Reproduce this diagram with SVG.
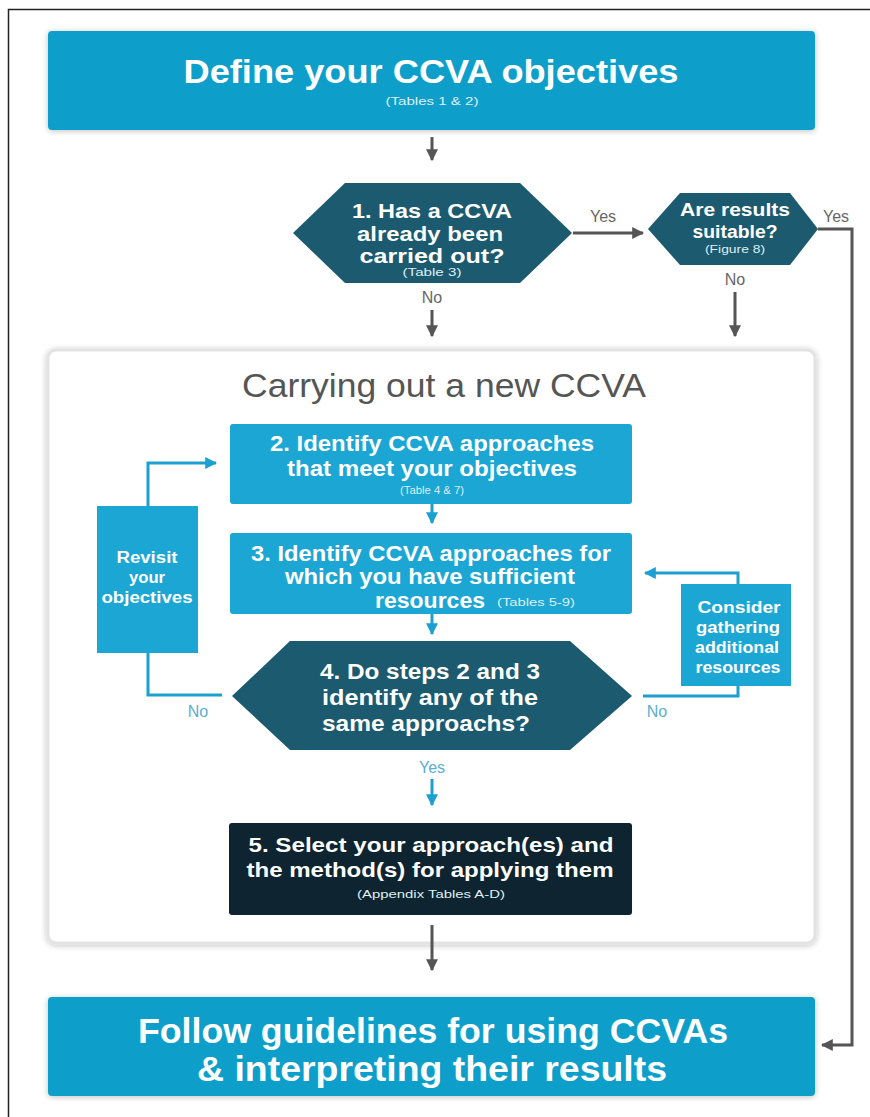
<svg xmlns="http://www.w3.org/2000/svg" width="870" height="1117" viewBox="0 0 870 1117">
<defs>
<style>
text{font-family:"Liberation Sans",Arial,sans-serif;text-anchor:middle}
.big{font-weight:bold;fill:#fff}
.w{font-weight:bold;fill:#fff}
.ref{fill:#dfeff5;font-size:10.5px}
.gl{stroke:#555;stroke-width:3;fill:none}
.cl{stroke:#1ba0d0;stroke-width:3;fill:none}
.gy{fill:#666;font-size:16px}
.cy{fill:#5aaed0;font-size:16px}
.top{fill:#0f9fca}
.mid{fill:#1ba6d4}
.hex{fill:#1c5a6f}
</style>
<marker id="ag" viewBox="0 0 10 10" refX="9" refY="5" markerWidth="4" markerHeight="4" orient="auto"><path d="M0,0L10,5L0,10z" fill="#555"/></marker>
<marker id="ac" viewBox="0 0 10 10" refX="9" refY="5" markerWidth="4" markerHeight="4" orient="auto"><path d="M0,0L10,5L0,10z" fill="#1ba0d0"/></marker>
<filter id="sh" x="-5%" y="-5%" width="110%" height="110%"><feGaussianBlur in="SourceAlpha" stdDeviation="3"/><feOffset dx="0" dy="1"/><feComponentTransfer><feFuncA type="linear" slope="0.25"/></feComponentTransfer><feMerge><feMergeNode/><feMergeNode in="SourceGraphic"/></feMerge></filter>
</defs>
<rect width="870" height="1117" fill="#fff"/>
<path d="M8.5,1117V9.5H870" fill="none" stroke="#222" stroke-width="1.5"/>

<g id="inner">
<rect x="48" y="350" width="767" height="593" rx="8" fill="#fff" stroke="#e3e3e3" stroke-width="3" filter="url(#sh)"/>
<text x="444" y="397" font-size="33" fill="#555" textLength="404" lengthAdjust="spacingAndGlyphs">Carrying out a new CCVA</text>
</g>

<g id="connectors">
<path class="gl" d="M432,137V160" marker-end="url(#ag)"/>
<path class="gl" d="M573,233H643" marker-end="url(#ag)"/>
<path class="gl" d="M432,310V336" marker-end="url(#ag)"/>
<path class="gl" d="M735,292V336" marker-end="url(#ag)"/>
<path class="gl" d="M818,229H852V1045H822" marker-end="url(#ag)"/>
<path class="gl" d="M432,925V970" marker-end="url(#ag)"/>
<path class="cl" d="M432,504V523" marker-end="url(#ac)"/>
<path class="cl" d="M432,614V634" marker-end="url(#ac)"/>
<path class="cl" d="M432,779V805" marker-end="url(#ac)"/>
<path class="cl" d="M148,506V463H216" marker-end="url(#ac)"/>
<path class="cl" d="M148,653V695H222"/>
<path class="cl" d="M643,696H738V686"/>
<path class="cl" d="M738,584V573H645" marker-end="url(#ac)"/>
<text class="gy" x="603" y="222">Yes</text>
<text class="gy" x="836" y="222">Yes</text>
<text class="gy" x="432" y="303">No</text>
<text class="gy" x="735" y="285">No</text>
<text class="cy" x="198" y="717">No</text>
<text class="cy" x="657" y="717">No</text>
<text class="cy" x="432" y="773">Yes</text>
</g>

<g id="n-top">
<rect class="top" x="48" y="31" width="767" height="99" rx="4" filter="url(#sh)"/>
<text class="big" x="431" y="83" font-size="34" textLength="495" lengthAdjust="spacingAndGlyphs">Define your CCVA objectives</text>
<text class="ref" x="432" y="105" textLength="93" lengthAdjust="spacingAndGlyphs">(Tables 1 &amp; 2)</text>
</g>

<g id="n-q1">
<polygon class="hex" points="293,233 345,183 520,183 572,233 520,283 345,283"/>
<text class="w" x="432" y="218" font-size="21" textLength="160" lengthAdjust="spacingAndGlyphs">1. Has a CCVA</text>
<text class="w" x="430" y="241" font-size="21" textLength="146" lengthAdjust="spacingAndGlyphs">already been</text>
<text class="w" x="432" y="263" font-size="21" textLength="145" lengthAdjust="spacingAndGlyphs">carried out?</text>
<text class="ref" x="432" y="276" textLength="59" lengthAdjust="spacingAndGlyphs">(Table 3)</text>
</g>

<g id="n-q2">
<polygon class="hex" points="648,229 680,193 790,193 818,229 790,265 680,265"/>
<text class="w" x="735" y="216" font-size="18" textLength="110" lengthAdjust="spacingAndGlyphs">Are results</text>
<text class="w" x="735" y="238" font-size="18" textLength="85" lengthAdjust="spacingAndGlyphs">suitable?</text>
<text class="ref" x="735" y="253" textLength="60" lengthAdjust="spacingAndGlyphs">(Figure 8)</text>
</g>

<g id="n-s2">
<rect class="mid" x="230" y="424" width="402" height="80" rx="3"/>
<text class="w" x="432" y="451" font-size="22" textLength="324" lengthAdjust="spacingAndGlyphs">2. Identify CCVA approaches</text>
<text class="w" x="432" y="476" font-size="22" textLength="290" lengthAdjust="spacingAndGlyphs">that meet your objectives</text>
<text class="ref" x="432" y="494" textLength="64" lengthAdjust="spacingAndGlyphs">(Table 4 &amp; 7)</text>
</g>

<g id="n-s3">
<rect class="mid" x="230" y="533" width="402" height="81" rx="3"/>
<text class="w" x="431" y="561" font-size="22" textLength="360" lengthAdjust="spacingAndGlyphs">3. Identify CCVA approaches for</text>
<text class="w" x="430" y="584" font-size="22" textLength="290" lengthAdjust="spacingAndGlyphs">which you have sufficient</text>
<text class="w" x="430" y="608" font-size="22" textLength="110" lengthAdjust="spacingAndGlyphs">resources</text>
<text class="ref" x="536" y="606" font-size="11" textLength="78" lengthAdjust="spacingAndGlyphs">(Tables 5-9)</text>
</g>

<g id="n-q4">
<polygon class="hex" points="232,696 290,641 570,641 632,696 570,750 290,750"/>
<text class="w" x="430" y="679" font-size="22" textLength="220" lengthAdjust="spacingAndGlyphs">4. Do steps 2 and 3</text>
<text class="w" x="430" y="705" font-size="22" textLength="216" lengthAdjust="spacingAndGlyphs">identify any of the</text>
<text class="w" x="426" y="731" font-size="22" textLength="208" lengthAdjust="spacingAndGlyphs">same approachs?</text>
</g>

<g id="n-revisit">
<rect class="mid" x="97" y="506" width="101" height="147"/>
<text class="w" x="147" y="563" font-size="16" textLength="61" lengthAdjust="spacingAndGlyphs">Revisit</text>
<text class="w" x="147" y="583" font-size="16" textLength="36" lengthAdjust="spacingAndGlyphs">your</text>
<text class="w" x="147" y="603" font-size="16" textLength="91" lengthAdjust="spacingAndGlyphs">objectives</text>
</g>

<g id="n-consider">
<rect class="mid" x="681" y="584" width="110" height="102"/>
<text class="w" x="739" y="613" font-size="16" textLength="83" lengthAdjust="spacingAndGlyphs">Consider</text>
<text class="w" x="738" y="633" font-size="16" textLength="84" lengthAdjust="spacingAndGlyphs">gathering</text>
<text class="w" x="737" y="653" font-size="16" textLength="84" lengthAdjust="spacingAndGlyphs">additional</text>
<text class="w" x="738" y="673" font-size="16" textLength="85" lengthAdjust="spacingAndGlyphs">resources</text>
</g>

<g id="n-s5">
<rect x="229" y="823" width="403" height="92" rx="3" fill="#0e2430"/>
<text class="w" x="431" y="852" font-size="21" textLength="365" lengthAdjust="spacingAndGlyphs">5. Select your approach(es) and</text>
<text class="w" x="430" y="877" font-size="21" textLength="367" lengthAdjust="spacingAndGlyphs">the method(s) for applying them</text>
<text class="ref" x="431" y="898" textLength="148" lengthAdjust="spacingAndGlyphs">(Appendix Tables A-D)</text>
</g>

<g id="n-bottom">
<rect class="top" x="48" y="997" width="767" height="99" rx="4" filter="url(#sh)"/>
<text class="big" x="433" y="1043" font-size="35" textLength="590" lengthAdjust="spacingAndGlyphs">Follow guidelines for using CCVAs</text>
<text class="big" x="432" y="1081" font-size="35" textLength="470" lengthAdjust="spacingAndGlyphs">&amp; interpreting their results</text>
</g>
</svg>
